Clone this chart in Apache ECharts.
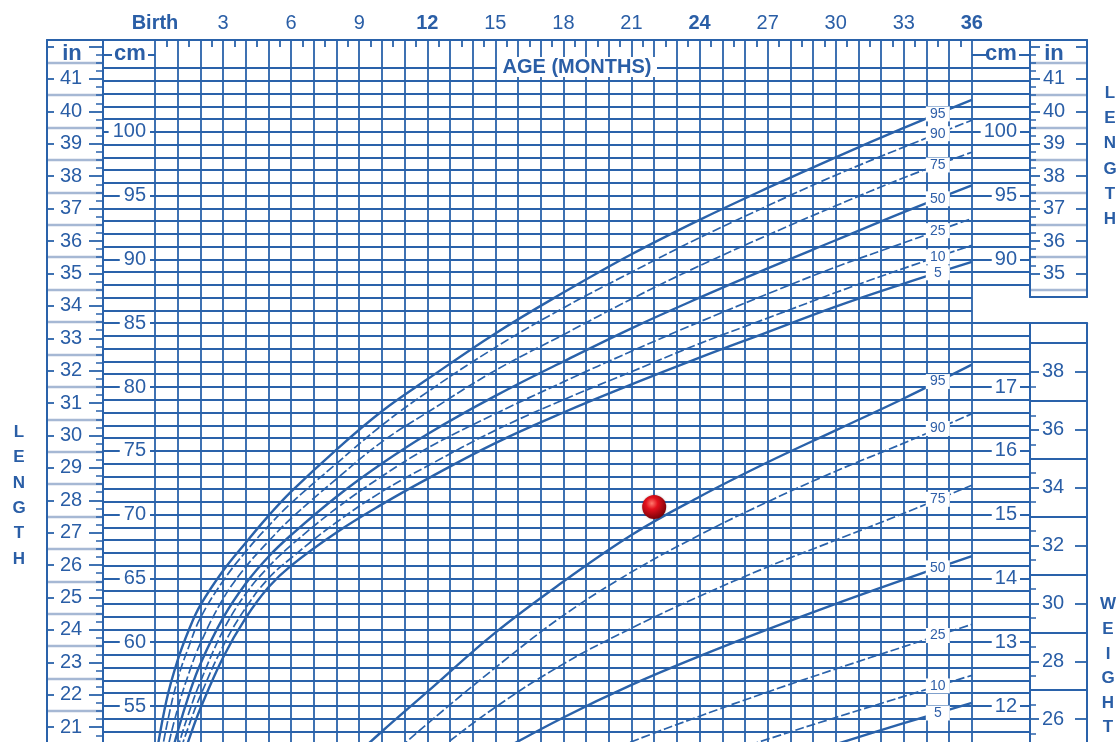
<!DOCTYPE html>
<html>
<head>
<meta charset="utf-8">
<script src="https://cdn.jsdelivr.net/npm/echarts@6/dist/echarts.min.js"></script>
<style>
  html, body { margin: 0; padding: 0; background: #fff; }
  #main { width: 1120px; height: 742px; }
</style>
</head>
<body>
<div id="main"></div>
<script>
// values
const ageTicks = [0, 3, 6, 9, 12, 15, 18, 21, 24, 27, 30, 33, 36];
const ageTickLabels = ['Birth', '3', '6', '9', '12', '15', '18', '21', '24', '27', '30', '33', '36'];
const boldAges = [0, 12, 24, 36];
const percentiles = ['95', '90', '75', '50', '25', '10', '5'];
const solidPercentiles = ['95', '50', '5'];

// length-for-age (cm)
const lengthAges = [0, 0.5, 1, 1.5, 2, 3, 4, 5, 6, 8, 10, 12, 15, 18, 21, 24, 27, 30, 33, 36];
const lengthP95 = [50.5, 55.4, 58.6, 61.0, 62.9, 65.6, 67.8, 69.9, 71.8, 75.1, 78.1, 80.6, 84.2, 87.4, 90.4, 93.1, 95.6, 98.0, 100.3, 102.5];
const lengthP90 = [48.5, 53.3, 57.1, 59.7, 61.9, 64.8, 67.1, 69.1, 70.9, 74.0, 77.0, 79.6, 83.1, 86.2, 89.0, 91.7, 94.2, 96.6, 98.8, 100.9];
const lengthP75 = [46.6, 51.2, 54.8, 57.6, 59.9, 63.4, 65.9, 67.9, 69.7, 72.8, 75.7, 78.0, 81.3, 84.1, 86.9, 89.5, 91.9, 94.2, 96.4, 98.4];
const lengthP50 = [45.3, 49.6, 53.0, 55.9, 58.3, 61.9, 64.6, 66.7, 68.4, 71.4, 74.0, 76.3, 79.3, 82.0, 84.6, 87.0, 89.3, 91.5, 93.7, 95.8];
const lengthP25 = [44.3, 48.4, 51.7, 54.5, 56.9, 60.9, 63.8, 65.9, 67.6, 70.5, 73.0, 75.2, 77.9, 80.4, 82.8, 85.1, 87.3, 89.4, 91.3, 93.2];
const lengthP10 = [43.5, 47.5, 50.8, 53.5, 55.8, 59.7, 62.7, 65.0, 66.6, 69.4, 71.8, 73.8, 76.6, 79.0, 81.2, 83.4, 85.4, 87.4, 89.3, 91.1];
const lengthP5 = [42.8, 46.6, 49.8, 52.4, 54.8, 58.8, 61.9, 64.3, 66.0, 68.6, 70.8, 72.8, 75.6, 78.0, 80.2, 82.3, 84.3, 86.3, 88.1, 89.8];

// weight-for-age (kg), lower part of the sheet
const weightAges = [8, 10, 12, 15, 18, 21, 24, 27, 30, 33, 36];
const weightP95 = [10.95, 11.6, 12.22, 13.15, 13.95, 14.68, 15.28, 15.82, 16.32, 16.82, 17.35];
const weightP90 = [10.5, 11.1, 11.72, 12.6, 13.42, 14.1, 14.68, 15.2, 15.68, 16.12, 16.58];
const weightP75 = [10.05, 10.62, 11.18, 11.98, 12.66, 13.22, 13.72, 14.18, 14.6, 15.02, 15.46];
const weightP50 = [9.7, 10.2, 10.65, 11.25, 11.82, 12.33, 12.78, 13.2, 13.6, 13.98, 14.35];
const weightP25 = [9.3, 9.7, 10.05, 10.55, 11.02, 11.44, 11.84, 12.22, 12.58, 12.93, 13.28];
const weightP10 = [8.85, 9.2, 9.5, 9.93, 10.35, 10.75, 11.13, 11.48, 11.82, 12.15, 12.48];
const weightP5 = [8.4, 8.75, 9.05, 9.5, 9.92, 10.32, 10.7, 11.06, 11.4, 11.73, 12.05];

// the plotted measurement (age in months, weight in kg)
const childVisit = [22.0, 15.12];

// ---- look & layout ----
const BLUE = '#2a62aa';
const TXT = '#2a5ea6';
const GRAY = '#a6b8d4';
const FONT = '"Liberation Sans", Arial, Helvetica, sans-serif';

const X0 = 155, PPM = 22.69, XR = X0 + 36 * PPM;
const Y100 = 131.8, PPC = 12.76;
const yAt = cm => Y100 + (100 - cm) * PPC;
const kgCm = kg => 80 + (kg - 17) * 5;   // weight scale shares the cm grid
const IN = 2.54, LB = 0.45359237;
const CM_MIN = 52, CM_MAX = 107.2;
const KG_MIN = 17 + (CM_MIN - 80) / 5, KG_MAX = 17 + (CM_MAX - 80) / 5;
const TOP = yAt(CM_MAX);
const LW = 1.8;

const grids = [], xAxes = [], yAxes = [];

function ax(o) {
  return Object.assign({
    type: 'value', min: 0, max: 1,
    axisLine: { show: false }, axisTick: { show: false }, minorTick: { show: false },
    axisLabel: { show: false }, splitLine: { show: false }, splitArea: { show: false }
  }, o);
}
const edge = w => ({ show: true, onZero: false, lineStyle: { color: BLUE, width: w || 2 } });
const grid1 = { show: true, lineStyle: { color: BLUE, width: LW } };
const tick = (len, w) => ({ show: true, inside: true, length: len, lineStyle: { color: BLUE, width: w || LW } });
const band = (top, bot) => ({ top: yAt(top), height: yAt(bot) - yAt(top) });

function addGrid(left, width, b, xs, ys) {
  const gi = grids.length;
  grids.push({ left, width, top: b.top, height: b.height, containLabel: false, outerBoundsMode: 'none', show: false });
  (xs || [{}]).forEach(x => xAxes.push(ax(Object.assign({ gridIndex: gi }, x))));
  (ys || [{}]).forEach(y => yAxes.push(ax(Object.assign({ gridIndex: gi }, y))));
  return gi;
}

function scaleLabel(margin, pad) {
  return {
    show: true, inside: true, margin: margin, color: TXT, fontFamily: FONT, fontSize: 20,
    backgroundColor: '#fff', padding: pad, lineHeight: 20
  };
}
function inchLabel(margin, hideAbove) {
  return {
    show: true, inside: true, margin: margin, color: TXT, fontFamily: FONT, fontSize: 20,
    formatter: v => (v >= hideAbove ? '' : String(v))
  };
}

// main plotting area (age x length / weight)
addGrid(X0, 36 * PPM, band(CM_MAX, CM_MIN), [{
  min: 0, max: 36, interval: 1, position: 'top',
  axisLine: edge(2),
  axisTick: { show: false, inside: true },
  minorTick: { show: true, splitNumber: 2, length: 7, lineStyle: { color: BLUE, width: LW } },
  splitLine: grid1,
  axisLabel: {
    show: true, margin: 6, color: TXT, fontFamily: FONT, fontSize: 20,
    formatter: v => {
      const i = ageTicks.indexOf(v);
      if (i < 0) return '';
      return (boldAges.indexOf(v) >= 0 ? '{b|' : '{n|') + ageTickLabels[i] + '}';
    },
    rich: {
      n: { fontSize: 20, color: TXT, fontFamily: FONT },
      b: { fontSize: 20, color: TXT, fontFamily: FONT, fontWeight: 'bold' }
    }
  }
}], [{ min: CM_MIN, max: CM_MAX }, { min: KG_MIN, max: KG_MAX, position: 'right' }]);

// horizontal rulings
addGrid(103, XR - 103, band(105, CM_MIN), null, [{ min: CM_MIN, max: 105, interval: 1, splitLine: grid1 }]);
addGrid(103, 52, band(106, 105), null, [{ min: 105, max: 106, interval: 1, splitLine: grid1 }]);
addGrid(XR, 1030 - XR, band(106, 88), null, [{ min: 88, max: 106, interval: 1, splitLine: grid1 }]);
addGrid(XR, 1030 - XR, band(85, CM_MIN), null, [{ min: CM_MIN, max: 85, interval: 1, splitLine: grid1 }]);

// frames
addGrid(47, 56, { top: TOP, height: 720 }, [{ position: 'top', axisLine: edge(2) }],
  [{ position: 'left', axisLine: edge(2) }, { position: 'right', axisLine: edge(2) }]);
addGrid(103, 52, { top: TOP, height: 720 }, [{ position: 'top', axisLine: edge(2) }]);
addGrid(XR, 1030 - XR, { top: TOP, height: 10 }, [{ position: 'top', axisLine: edge(2) }]);
addGrid(1030, 57, { top: TOP, height: 297 - TOP },
  [{ position: 'top', axisLine: edge(2) }, { position: 'bottom', axisLine: edge(2) }],
  [{ position: 'left', axisLine: edge(2) }, { position: 'right', axisLine: edge(2) }]);
addGrid(1030, 57, { top: yAt(85), height: 500 }, [{ position: 'top', axisLine: edge(2) }],
  [{ position: 'left', axisLine: edge(2) }, { position: 'right', axisLine: edge(2) }]);

// inch column, left
addGrid(47, 56, band(41.5 * IN, 20.5 * IN), null, [{ min: 20, max: 41, interval: 1, splitLine: { show: true, lineStyle: { color: GRAY, width: 2.4 } } }]);
addGrid(47, 56, band(42 * IN, 20 * IN), null, [
  { position: 'left', min: 20, max: 42, interval: 1, z: 2, axisTick: tick(7), axisLabel: inchLabel(13, 42) },
  { position: 'right', min: 20, max: 42, interval: 1, z: 2, axisTick: tick(14),
    minorTick: { show: true, splitNumber: 4, length: 7, lineStyle: { color: BLUE, width: 1.5 } } }
]);

// inch column, right (length)
addGrid(1030, 57, band(41.5 * IN, 34.5 * IN), null, [{ min: 34, max: 41, interval: 1, splitLine: { show: true, lineStyle: { color: GRAY, width: 2.4 } } }]);
addGrid(1030, 57, band(42 * IN, 35 * IN), null, [
  { position: 'left', min: 35, max: 42, interval: 1, z: 2, axisTick: tick(10), axisLabel: inchLabel(13, 42),
    minorTick: { show: true, splitNumber: 4, length: 6, lineStyle: { color: BLUE, width: 1.5 } } },
  { position: 'right', min: 35, max: 42, interval: 1, z: 2, axisTick: tick(11) }
]);

// pound column, right (weight)
addGrid(1030, 57, band(kgCm(39 * LB), kgCm(25 * LB)), null, [{ min: 24, max: 38, interval: 2, splitLine: grid1 }]);
addGrid(1030, 57, band(kgCm(38 * LB), kgCm(24 * LB)), null, [
  { position: 'left', min: 24, max: 38, interval: 2, z: 2, axisTick: tick(9), axisLabel: inchLabel(12, 99),
    minorTick: { show: true, splitNumber: 4, length: 6, lineStyle: { color: BLUE, width: 1.5 } } },
  { position: 'right', min: 24, max: 38, interval: 2, z: 2, axisTick: tick(12) }
]);

// cm / kg scale labels
addGrid(103, 52, band(100, 50), null, [{ position: 'right', min: 50, max: 100, interval: 5, z: 2, axisLabel: scaleLabel(5, [0, 4]) }]);
addGrid(XR, 1030 - XR, band(100, 90), null, [{ position: 'right', min: 90, max: 100, interval: 5, z: 2, axisLabel: scaleLabel(10, [0, 3]) }]);
addGrid(XR, 1030 - XR, band(kgCm(17), kgCm(12)), null, [{ position: 'right', min: 12, max: 17, interval: 1, z: 2, axisLabel: scaleLabel(10, [0, 3]) }]);

// ---- series ----
function curve(ages, vals, pct, yIdx) {
  const solid = solidPercentiles.indexOf(pct) >= 0;
  return {
    type: 'line', xAxisIndex: 0, yAxisIndex: yIdx, name: pct, silent: true, z: 2,
    data: ages.map((a, i) => [a, vals[i]]), smooth: 0.4, symbol: 'none', animation: false,
    lineStyle: { color: BLUE, width: solid ? 2.4 : 1.7, type: solid ? 'solid' : [9, 3] }
  };
}
function valueAt(ages, vals, a) {
  for (let i = 1; i < ages.length; i++) {
    if (a <= ages[i]) {
      const t = (a - ages[i - 1]) / (ages[i] - ages[i - 1]);
      return vals[i - 1] + t * (vals[i] - vals[i - 1]);
    }
  }
  return vals[vals.length - 1];
}

const lengthSets = [lengthP95, lengthP90, lengthP75, lengthP50, lengthP25, lengthP10, lengthP5];
const weightSets = [weightP95, weightP90, weightP75, weightP50, weightP25, weightP10, weightP5];
const LABEL_AGE = 34.5;

const series = [];
percentiles.forEach((p, i) => series.push(curve(lengthAges, lengthSets[i], p, 0)));
percentiles.forEach((p, i) => series.push(curve(weightAges, weightSets[i], p, 1)));

function pctLabels(ages, sets, yIdx) {
  return {
    type: 'scatter', xAxisIndex: 0, yAxisIndex: yIdx, symbol: 'rect', symbolSize: [24, 15], z: 4,
    silent: true, animation: false, itemStyle: { color: '#fff', opacity: 1 },
    label: {
      show: true, position: 'inside', formatter: '{b}', color: '#2f5fa8', fontFamily: FONT, fontSize: 14,
      textBorderWidth: 0, opacity: 1
    },
    data: percentiles.map((p, i) => ({ name: p, value: [LABEL_AGE, valueAt(ages, sets[i], LABEL_AGE)] }))
  };
}
series.push(pctLabels(lengthAges, lengthSets, 0));
series.push(pctLabels(weightAges, weightSets, 1));

series.push({
  type: 'scatter', xAxisIndex: 0, yAxisIndex: 1, data: [childVisit], symbolSize: 24, z: 5,
  silent: true, animation: false,
  itemStyle: {
    opacity: 1,
    color: {
      type: 'radial', x: 0.4, y: 0.35, r: 0.7,
      colorStops: [
        { offset: 0, color: '#ff7a6e' },
        { offset: 0.35, color: '#e3101c' },
        { offset: 1, color: '#6e0006' }
      ]
    },
    shadowBlur: 2, shadowColor: 'rgba(0,0,0,0.3)'
  }
});

// ---- loose text ----
function txt(x, y, s, font, extra) {
  return {
    type: 'text', x: x, y: y, z: 20,
    style: Object.assign({ text: s, font: font, fill: TXT, textAlign: 'center', verticalAlign: 'middle', textVerticalAlign: 'middle' }, extra || {})
  };
}
function whiteBox(x, y, w, h) {
  return { type: 'rect', z: 19, shape: { x: x, y: y, width: w, height: h }, style: { fill: '#fff' } };
}
const vertical = (x, y, s, lh) => txt(x, y, s, 'bold 17px ' + FONT, { lineHeight: lh, verticalAlign: 'top', textVerticalAlign: 'top' });

const graphic = [
  whiteBox(497, 57, 160, 20),
  txt(577, 67, 'AGE (MONTHS)', 'bold 20px ' + FONT),
  whiteBox(112, 46, 36, 16),
  txt(130, 53.5, 'cm', 'bold 22px ' + FONT),
  txt(72, 53.5, 'in', 'bold 22px ' + FONT),
  whiteBox(986, 46, 33, 16),
  txt(1001, 53.5, 'cm', 'bold 22px ' + FONT),
  txt(1054, 53.5, 'in', 'bold 22px ' + FONT),
  vertical(19, 419.5, 'L\nE\nN\nG\nT\nH', 25.4),
  vertical(1110, 80.5, 'L\nE\nN\nG\nT\nH', 25.3),
  vertical(1108, 592.5, 'W\nE\nI\nG\nH\nT', 24.6)
];

const chart = echarts.init(document.getElementById('main'), null, { renderer: 'canvas' });
chart.setOption({
  animation: false,
  backgroundColor: '#fff',
  textStyle: { fontFamily: FONT },
  grid: grids,
  xAxis: xAxes,
  yAxis: yAxes,
  series: series,
  graphic: graphic
});
</script>
</body>
</html>
